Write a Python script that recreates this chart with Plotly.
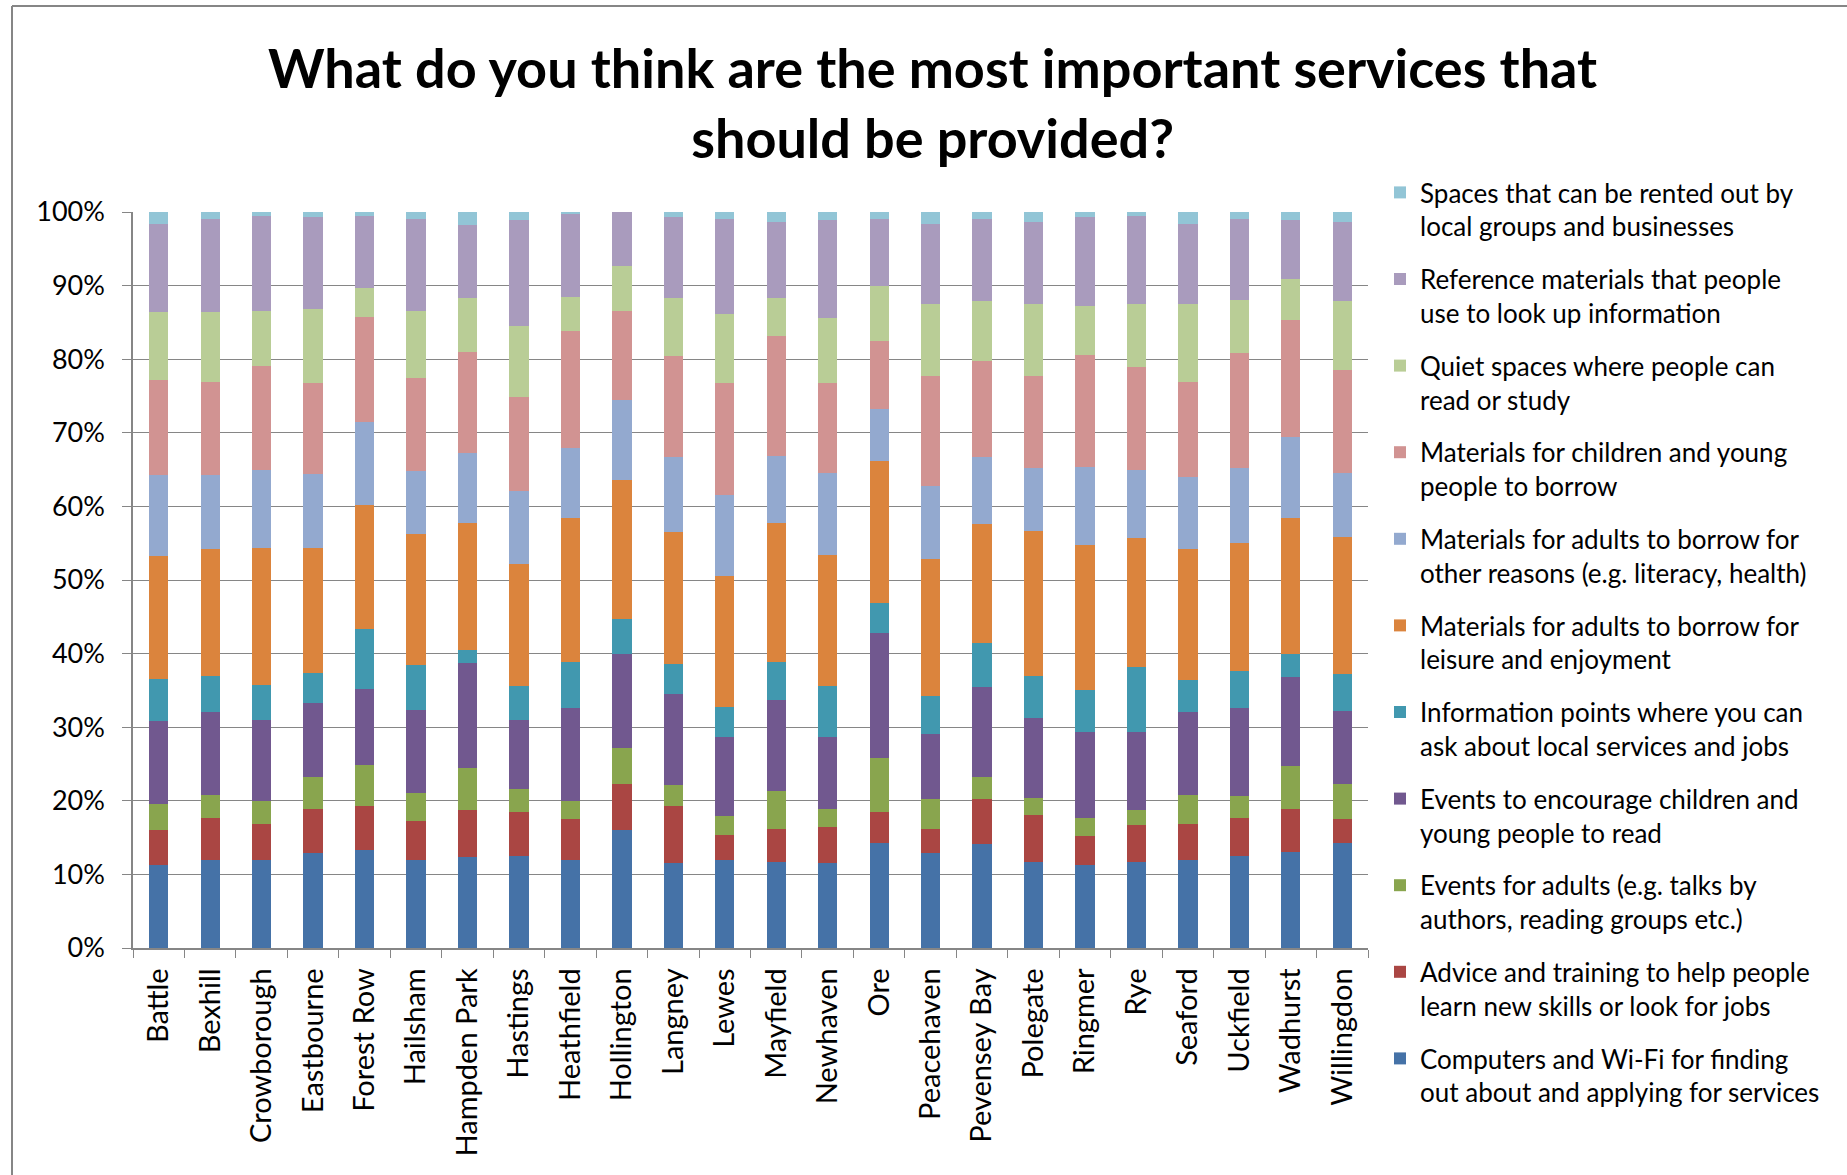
import plotly.graph_objects as go

towns = ["Battle", "Bexhill", "Crowborough", "Eastbourne", "Forest Row", "Hailsham",
         "Hampden Park", "Hastings", "Heathfield", "Hollington", "Langney", "Lewes",
         "Mayfield", "Newhaven", "Ore", "Peacehaven", "Pevensey Bay", "Polegate",
         "Ringmer", "Rye", "Seaford", "Uckfield", "Wadhurst", "Willingdon"]

computers = [11.3, 11.9, 11.9, 12.9, 13.3, 11.9, 12.3, 12.5, 11.9, 16.0, 11.5, 11.9,
             11.7, 11.5, 14.3, 12.9, 14.1, 11.7, 11.3, 11.7, 11.9, 12.5, 13.1, 14.3]
advice = [4.7, 5.8, 5.0, 6.0, 6.0, 5.4, 6.5, 6.0, 5.6, 6.3, 7.8, 3.5,
          4.5, 4.9, 4.2, 3.3, 6.1, 6.4, 3.9, 5.0, 5.0, 5.2, 5.8, 3.2]
events_adults = [3.5, 3.1, 3.1, 4.4, 5.6, 3.7, 5.7, 3.1, 2.5, 4.9, 2.8, 2.5,
                 5.2, 2.5, 7.3, 4.0, 3.1, 2.3, 2.5, 2.0, 3.9, 2.9, 5.8, 4.8]
events_children = [11.3, 11.2, 11.0, 10.0, 10.3, 11.4, 14.2, 9.4, 12.6, 12.7, 12.4, 10.8,
                   12.3, 9.8, 17.0, 8.9, 12.1, 10.8, 11.6, 10.6, 11.2, 12.0, 12.1, 9.9]
info_points = [5.8, 5.0, 4.8, 4.1, 8.2, 6.0, 1.8, 4.6, 6.3, 4.8, 4.1, 4.1,
               5.1, 6.9, 4.1, 5.2, 6.0, 5.8, 5.7, 8.9, 4.4, 5.0, 3.1, 5.0]
adults_leisure = [16.6, 17.2, 18.6, 17.0, 16.8, 17.8, 17.3, 16.6, 19.5, 18.9, 17.9, 17.7,
                  19.0, 17.8, 19.3, 18.5, 16.2, 19.6, 19.8, 17.5, 17.8, 17.4, 18.5, 18.7]
adults_other = [11.0, 10.0, 10.6, 10.0, 11.3, 8.6, 9.5, 9.9, 9.6, 10.8, 10.2, 11.1,
                9.0, 11.2, 7.1, 10.0, 9.1, 8.6, 10.6, 9.3, 9.8, 10.2, 11.0, 8.7]
children_materials = [13.0, 12.7, 14.1, 12.3, 14.3, 12.7, 13.7, 12.7, 15.9, 12.1, 13.7, 15.1,
                      16.3, 12.1, 9.2, 14.9, 13.0, 12.5, 15.2, 13.9, 12.9, 15.6, 15.9, 13.9]
quiet_spaces = [9.2, 9.5, 7.5, 10.1, 3.9, 9.1, 7.3, 9.7, 4.6, 6.1, 7.9, 9.5,
                5.2, 8.9, 7.4, 9.8, 8.2, 9.8, 6.6, 8.6, 10.6, 7.3, 5.6, 9.4]
reference = [12.0, 12.7, 12.9, 12.5, 9.8, 12.5, 10.0, 14.4, 11.2, 7.4, 11.0, 12.9,
             10.4, 13.3, 9.2, 10.9, 11.2, 11.2, 12.1, 12.0, 10.9, 11.0, 8.0, 10.8]
spaces_rent = [1.6, 0.9, 0.5, 0.7, 0.5, 0.9, 1.7, 1.1, 0.3, 0.0, 0.7, 0.9,
               1.3, 1.1, 0.9, 1.6, 0.9, 1.3, 0.7, 0.5, 1.6, 0.9, 1.1, 1.3]

series_names = [
    "Computers and Wi-Fi for finding<br>out about and applying for services",
    "Advice and training to help people<br>learn new skills or look for jobs",
    "Events for adults (e.g. talks by<br>authors, reading groups etc.)",
    "Events to encourage children and<br>young people to read",
    "Information points where you can<br>ask about local services and jobs",
    "Materials for adults to borrow for<br>leisure and enjoyment",
    "Materials for adults to borrow for<br>other reasons (e.g. literacy, health)",
    "Materials for children and young<br>people to borrow",
    "Quiet spaces where people can<br>read or study",
    "Reference materials that people<br>use to look up information",
    "Spaces that can be rented out by<br>local groups and businesses",
]
series_values = [computers, advice, events_adults, events_children, info_points,
                 adults_leisure, adults_other, children_materials, quiet_spaces,
                 reference, spaces_rent]
colors = ["#4572A7", "#AA4643", "#89A54E", "#71588F", "#4198AF", "#DB843D",
          "#93A9CF", "#D19392", "#B9CD96", "#A99BBD", "#92C5D6"]

FONT = "Lato"
W, H = 1847, 1175
L, R, T, B = 133, 1368, 212, 948  # plot area pixel bounds
pw, ph = R - L, B - T

fig = go.Figure()
for i, (name, vals, col) in enumerate(zip(series_names, series_values, colors)):
    fig.add_trace(go.Bar(
        x=towns, y=vals, name=name, marker=dict(color=col, line=dict(width=0)),
        legendgroup=f"g{i}", legendrank=1000 - 10 * i,
    ))

def px_x(p):
    return (p - L) / pw

def px_y(p):
    return (B - p) / ph

grid = "#868686"
fig.update_layout(
    width=W, height=H,
    margin=dict(l=L, r=W - R, t=T, b=H - B, autoexpand=False),
    barmode="stack", barnorm="percent", bargap=0.625,
    plot_bgcolor="white", paper_bgcolor="white",
    font=dict(family=FONT, color="#000000", size=26),
    legend=dict(
        x=px_x(1380), y=px_y(169), xanchor="left", yanchor="top",
        traceorder="grouped", tracegroupgap=16, valign="top",
        font=dict(family=FONT, size=26, color="#000000"),
        itemwidth=30, itemclick=False, bgcolor="rgba(0,0,0,0)",
        maxheight=1150,
    ),
    xaxis=dict(
        type="category", tickangle=-90, tickson="boundaries", ticks="outside",
        ticklen=8, tickcolor=grid, showline=True, linecolor=grid, linewidth=1.5,
        tickfont=dict(family=FONT, size=29, color="#000000"), showgrid=False,
        ticklabelstandoff=7,
    ),
    yaxis=dict(
        range=[0, 100], dtick=10, ticksuffix="%", ticks="outside", ticklen=9,
        tickcolor=grid, showline=True, linecolor=grid, linewidth=1.5,
        showgrid=True, gridcolor=grid, gridwidth=1,
        tickfont=dict(family=FONT, size=27, color="#000000"), zeroline=False,
        ticklabelstandoff=12,
    ),
    annotations=[dict(
        text="<b>What do you think are the most important services that</b><br><b>should be provided?</b>",
        x=px_x(932), y=px_y(103), xref="paper", yref="paper",
        xanchor="center", yanchor="middle", showarrow=False,
        font=dict(family=FONT, size=54, color="#000000"),
    )],
    shapes=[
        dict(type="line", xref="paper", yref="paper",
             x0=px_x(12), x1=px_x(12), y0=px_y(1200), y1=px_y(6),
             line=dict(color=grid, width=2)),
        dict(type="line", xref="paper", yref="paper",
             x0=px_x(12), x1=px_x(1900), y0=px_y(6), y1=px_y(6),
             line=dict(color=grid, width=2)),
    ],
)

fig.write_html("out.html", config={"displayModeBar": False},
               post_script="document.body.style.margin='0';")
